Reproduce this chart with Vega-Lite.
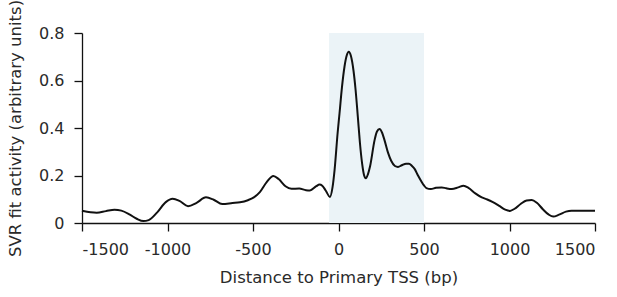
{
  "$schema": "https://vega.github.io/schema/vega-lite/v6.json",
  "width": 513,
  "height": 190,
  "autosize": "none",
  "padding": {"left": 82, "top": 33, "right": 22, "bottom": 74},
  "config": {
    "view": {"stroke": null},
    "font": "DejaVu Sans",
    "axis": {
      "domainColor": "#111",
      "domainWidth": 1.3,
      "tickColor": "#111",
      "tickWidth": 1.3,
      "tickSize": 8,
      "grid": false,
      "labelOverlap": false,
      "labelFont": "DejaVu Sans",
      "labelFontSize": 16,
      "labelColor": "#2a2a2a",
      "labelFontWeight": "normal",
      "titleFont": "DejaVu Sans",
      "titleFontSize": 16.5,
      "titleFontWeight": "normal",
      "titleColor": "#2a2a2a"
    }
  },
  "datasets": {
    "region": [{"start": -55, "end": 500, "low": 0, "high": 0.8}],
    "curve": [
      {"d": -1500, "v": 0.052}, {"d": -1450, "v": 0.045}, {"d": -1414, "v": 0.043}, {"d": -1360, "v": 0.05},
      {"d": -1310, "v": 0.056}, {"d": -1270, "v": 0.052}, {"d": -1220, "v": 0.035}, {"d": -1180, "v": 0.018},
      {"d": -1141, "v": 0.008}, {"d": -1110, "v": 0.012}, {"d": -1060, "v": 0.045}, {"d": -1010, "v": 0.088},
      {"d": -970, "v": 0.102}, {"d": -930, "v": 0.093}, {"d": -880, "v": 0.071}, {"d": -830, "v": 0.085},
      {"d": -775, "v": 0.108}, {"d": -730, "v": 0.098}, {"d": -680, "v": 0.08}, {"d": -620, "v": 0.084},
      {"d": -576, "v": 0.087}, {"d": -530, "v": 0.096}, {"d": -495, "v": 0.108}, {"d": -460, "v": 0.13},
      {"d": -420, "v": 0.172}, {"d": -381, "v": 0.198}, {"d": -350, "v": 0.185}, {"d": -310, "v": 0.155},
      {"d": -275, "v": 0.144}, {"d": -230, "v": 0.145}, {"d": -190, "v": 0.138}, {"d": -167, "v": 0.137},
      {"d": -130, "v": 0.155}, {"d": -111, "v": 0.162}, {"d": -95, "v": 0.157}, {"d": -75, "v": 0.137},
      {"d": -50, "v": 0.11}, {"d": -35, "v": 0.15}, {"d": -23, "v": 0.223}, {"d": -5, "v": 0.38},
      {"d": 6, "v": 0.462}, {"d": 20, "v": 0.57}, {"d": 35, "v": 0.658}, {"d": 48, "v": 0.705},
      {"d": 60, "v": 0.721}, {"d": 72, "v": 0.705}, {"d": 88, "v": 0.64}, {"d": 100, "v": 0.56},
      {"d": 113, "v": 0.448}, {"d": 125, "v": 0.34}, {"d": 138, "v": 0.251}, {"d": 150, "v": 0.2},
      {"d": 160, "v": 0.188}, {"d": 172, "v": 0.205}, {"d": 185, "v": 0.24}, {"d": 211, "v": 0.349},
      {"d": 225, "v": 0.385}, {"d": 240, "v": 0.396}, {"d": 255, "v": 0.38}, {"d": 269, "v": 0.349},
      {"d": 290, "v": 0.295}, {"d": 308, "v": 0.262}, {"d": 330, "v": 0.24}, {"d": 348, "v": 0.236},
      {"d": 370, "v": 0.243}, {"d": 395, "v": 0.25}, {"d": 412, "v": 0.25}, {"d": 430, "v": 0.24},
      {"d": 445, "v": 0.228}, {"d": 465, "v": 0.2}, {"d": 484, "v": 0.176}, {"d": 500, "v": 0.158},
      {"d": 514, "v": 0.147}, {"d": 540, "v": 0.143}, {"d": 570, "v": 0.148}, {"d": 604, "v": 0.15},
      {"d": 630, "v": 0.146}, {"d": 663, "v": 0.143}, {"d": 700, "v": 0.15}, {"d": 731, "v": 0.157},
      {"d": 760, "v": 0.148}, {"d": 800, "v": 0.125}, {"d": 838, "v": 0.108}, {"d": 870, "v": 0.099},
      {"d": 900, "v": 0.089}, {"d": 940, "v": 0.072}, {"d": 975, "v": 0.056}, {"d": 1003, "v": 0.051},
      {"d": 1030, "v": 0.06}, {"d": 1065, "v": 0.08}, {"d": 1100, "v": 0.095}, {"d": 1130, "v": 0.097},
      {"d": 1160, "v": 0.085}, {"d": 1195, "v": 0.058}, {"d": 1230, "v": 0.035}, {"d": 1256, "v": 0.027},
      {"d": 1290, "v": 0.035}, {"d": 1330, "v": 0.048}, {"d": 1363, "v": 0.052}, {"d": 1420, "v": 0.052},
      {"d": 1500, "v": 0.052}
    ]
  },
  "layer": [
    {
      "data": {"name": "region"},
      "mark": {"type": "rect", "color": "#ebf3f7"},
      "encoding": {
        "x": {"field": "start", "type": "quantitative", "scale": {"domain": [-1500, 1500], "nice": false},
          "axis": {"values": [-1500, -1000, -500, 0, 500, 1000, 1500], "title": "Distance to Primary TSS (bp)", "labelPadding": 10, "titlePadding": 12,
            "labelExpr": "'' + datum.value"}},
        "x2": {"field": "end"},
        "y": {"field": "low", "type": "quantitative", "scale": {"domain": [0, 0.8], "nice": false},
          "axis": {"values": [0, 0.2, 0.4, 0.6, 0.8], "title": "SVR fit activity (arbitrary units)", "labelPadding": 10, "titlePadding": 15,
            "labelExpr": "datum.value == 0 ? '0' : format(datum.value, '.1f')"}},
        "y2": {"field": "high"}
      }
    },
    {
      "data": {"name": "curve"},
      "mark": {"type": "line", "color": "#111", "strokeWidth": 2, "interpolate": "monotone"},
      "encoding": {
        "x": {"field": "d", "type": "quantitative"},
        "y": {"field": "v", "type": "quantitative"}
      }
    }
  ]
}
